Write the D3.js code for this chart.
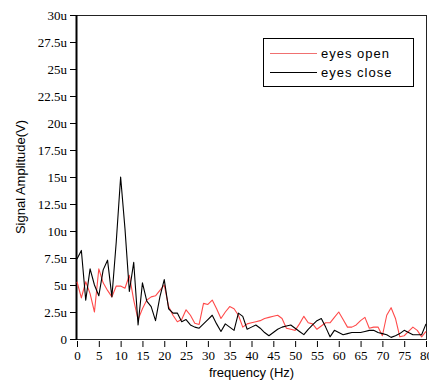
<!DOCTYPE html>
<html>
<head>
<meta charset="utf-8">
<script src="https://cdn.jsdelivr.net/npm/d3@7/dist/d3.min.js"></script>
<style>
  html, body { margin: 0; padding: 0; background: #fff; }
  svg { display: block; }
</style>
</head>
<body>
<svg id="chart" width="429" height="383"></svg>
<script>
// Spectrum amplitude (µV) sampled every 1 Hz, 0–80 Hz
const frequency = d3.range(0, 81);
const eyesOpen = [
  5.3, 3.8, 5.3, 4.2, 2.5, 6.5, 5.2, 4.5, 3.9, 4.9,
  4.9, 4.7, 5.9, 3.6, 1.8, 2.8, 3.6, 3.9, 4.0, 4.5,
  5.0, 3.0, 2.2, 1.6, 1.8, 2.7, 2.2, 1.45, 1.35, 3.3,
  3.2, 3.6, 2.8, 1.9, 2.5, 3.0, 2.8, 2.2, 1.1, 1.4,
  1.5, 1.6, 1.7, 1.9, 2.0, 2.1, 2.2, 1.9, 1.0, 0.9,
  0.8, 1.4, 2.1, 1.5, 1.4, 0.9, 1.2, 1.5, 1.5, 2.0,
  2.5, 1.8, 1.1, 1.1, 1.3, 1.7, 2.0, 1.0, 1.1, 1.1,
  0.3, 2.2, 2.9, 1.9, 0.2, 0.3, 0.7, 1.1, 0.8, 0.2,
  0.7
];
const eyesClose = [
  7.4, 8.2, 3.6, 6.5, 5.0, 4.0, 6.4, 7.3, 3.9, 9.0,
  15.0, 10.2, 4.4, 7.1, 1.3, 5.2, 3.5, 3.0, 1.7, 3.9,
  5.5, 2.8, 2.4, 2.4, 1.6, 1.8, 1.3, 1.1, 1.0, 1.4,
  1.8, 2.2, 1.4, 0.7, 1.4, 1.1, 0.8, 2.4, 2.1, 0.9,
  1.1, 1.3, 1.0, 0.6, 0.3, 0.6, 0.9, 1.1, 1.2, 1.3,
  1.0, 0.7, 0.4, 0.9, 1.3, 1.7, 1.9, 1.1, 0.2, 0.8,
  0.6, 0.4, 0.5, 0.6, 0.6, 0.6, 0.7, 0.8, 0.8, 0.6,
  0.5, 0.4, 0.15, 0.3, 0.5, 0.8, 0.6, 0.4, 0.4, 0.4,
  1.4
];
const xTicks = d3.range(0, 81, 5);
const yTicks = d3.range(0, 30.01, 2.5);
const seriesNames = ["eyes open", "eyes close"];
const seriesColors = ["#ff4a4a", "#000000"];

const svg = d3.select("#chart");
const plotLeft = 77, plotRight = 426, plotTop = 15, plotBottom = 339;

const x = d3.scaleLinear().domain([0, 80]).range([plotLeft, plotRight]);
const y = d3.scaleLinear().domain([0, 30]).range([plotBottom, plotTop]);

const tickFont = "'Liberation Serif', 'DejaVu Serif', serif";
const labelFont = "'Liberation Sans', Arial, sans-serif";

// Y axis ticks and labels
const yAxis = svg.append("g")
  .attr("transform", `translate(${plotLeft - 1},0)`)
  .call(d3.axisLeft(y).tickValues(yTicks).tickSize(6).tickPadding(3)
    .tickFormat(d => (d === 0 ? "0" : d3.format("~g")(d) + "u")));
yAxis.select(".domain").remove();
yAxis.selectAll("line").attr("stroke", "#000");
yAxis.selectAll("text")
  .attr("font-family", tickFont).attr("font-size", 13).attr("fill", "#000");

// X axis ticks and labels
const xAxis = svg.append("g")
  .attr("transform", `translate(0,${plotBottom + 2})`)
  .call(d3.axisBottom(x).tickValues(xTicks).tickSize(6).tickPadding(4)
    .tickFormat(d3.format("d")));
xAxis.select(".domain").remove();
xAxis.selectAll("line").attr("stroke", "#000");
xAxis.selectAll("text")
  .attr("font-family", tickFont).attr("font-size", 13).attr("fill", "#000");

// Plot frame
svg.append("rect")
  .attr("x", plotLeft - 0.5).attr("y", plotTop + 0.5)
  .attr("width", plotRight - plotLeft + 1).attr("height", plotBottom - plotTop)
  .attr("fill", "none").attr("stroke", "#222").attr("stroke-width", 1);
svg.append("line")
  .attr("x1", plotLeft - 0.5).attr("x2", plotLeft - 0.5)
  .attr("y1", plotTop).attr("y2", plotBottom + 1)
  .attr("stroke", "#000").attr("stroke-width", 2);

// Data traces
const line = d3.line()
  .x((d, i) => x(frequency[i]))
  .y(d => y(d));

[eyesOpen, eyesClose].forEach((vals, k) => {
  svg.append("path")
    .datum(vals)
    .attr("d", line)
    .attr("fill", "none")
    .attr("stroke", seriesColors[k])
    .attr("stroke-width", 1.1)
    .attr("stroke-linejoin", "round");
});

// Legend
const legend = svg.append("g");
legend.append("rect")
  .attr("x", 263.5).attr("y", 38.5).attr("width", 150).attr("height", 48)
  .attr("fill", "#fff").attr("stroke", "#000").attr("stroke-width", 1);
seriesNames.forEach((name, k) => {
  const ly = 53.5 + k * 19;
  legend.append("line")
    .attr("x1", 270).attr("x2", 317).attr("y1", ly).attr("y2", ly)
    .attr("stroke", k === 0 ? "#f07070" : "#000").attr("stroke-width", 1);
  legend.append("text")
    .attr("x", 321).attr("y", ly + 4.5)
    .attr("font-family", labelFont).attr("font-size", 13)
    .attr("letter-spacing", 1)
    .attr("fill", "#000")
    .text(name);
});

// Axis titles
svg.append("text")
  .attr("x", (plotLeft + plotRight) / 2).attr("y", 377)
  .attr("text-anchor", "middle")
  .attr("font-family", labelFont).attr("font-size", 13)
  .attr("fill", "#000")
  .text("frequency (Hz)");

svg.append("text")
  .attr("transform", `translate(25,${(plotTop + plotBottom) / 2}) rotate(-90)`)
  .attr("text-anchor", "middle")
  .attr("font-family", labelFont).attr("font-size", 13)
  .attr("fill", "#000")
  .text("Signal Amplitude(V)");
</script>
</body>
</html>
